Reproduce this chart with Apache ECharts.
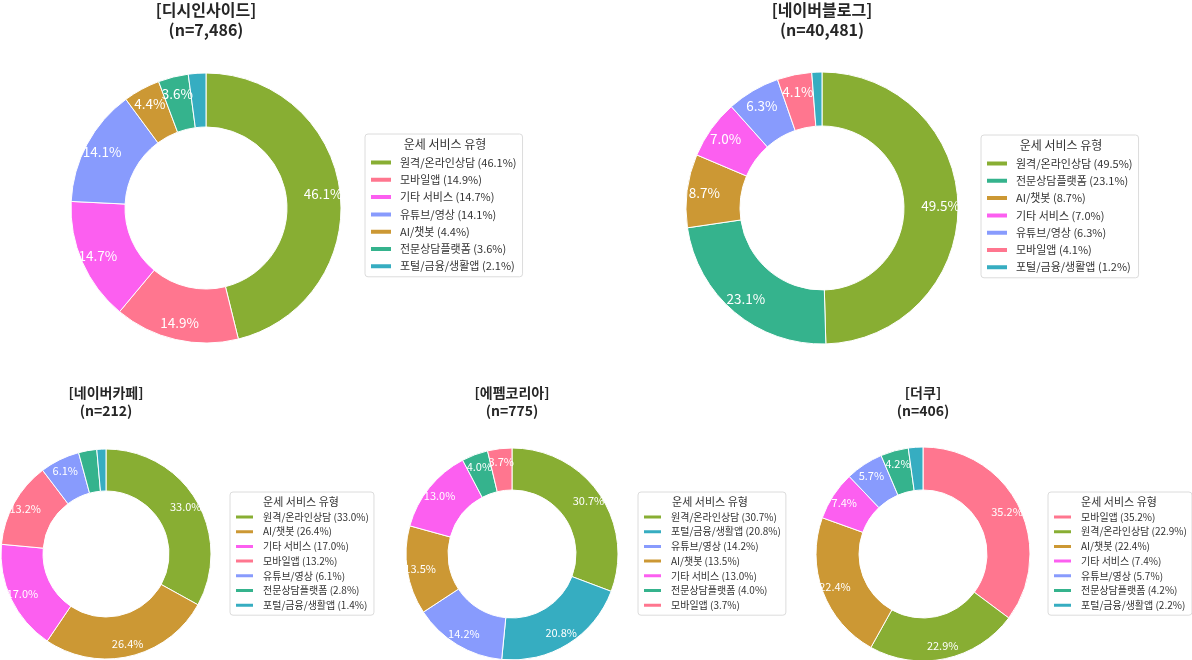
<!DOCTYPE html>
<html style="height:100%">
<meta charset="utf-8" />
<title>운세 서비스 유형 - 커뮤니티별</title>
<script src="https://cdn.jsdelivr.net/npm/echarts@6/dist/echarts.min.js"></script>
<body style="height:100%;width:100%;margin:0;background:#fff">
<div id="chartmain" style="width:1192px;height:660px;"></div>
<script type="text/javascript">

    // 카테고리 색상 (모든 차트 공통)
    var typeNames = ['원격/온라인상담', '모바일앱', '기타 서비스', '유튜브/영상', 'AI/챗봇', '전문상담플랫폼', '포털/금융/생활앱'];
    var typeColors = ['#88ae33', '#ff768f', '#fc5ff0', '#889bfd', '#cc9834', '#35b38d', '#36adc1'];

    // 디시인사이드
    var dcTitle = '[디시인사이드]\n(n=7,486)';
    var dcNames = ['원격/온라인상담', '모바일앱', '기타 서비스', '유튜브/영상', 'AI/챗봇', '전문상담플랫폼', '포털/금융/생활앱'];
    var dcValues = [46.1, 14.9, 14.7, 14.1, 4.4, 3.6, 2.1];

    // 네이버블로그
    var blogTitle = '[네이버블로그]\n(n=40,481)';
    var blogNames = ['원격/온라인상담', '전문상담플랫폼', 'AI/챗봇', '기타 서비스', '유튜브/영상', '모바일앱', '포털/금융/생활앱'];
    var blogValues = [49.5, 23.1, 8.7, 7.0, 6.3, 4.1, 1.2];

    // 네이버카페
    var cafeTitle = '[네이버카페]\n(n=212)';
    var cafeNames = ['원격/온라인상담', 'AI/챗봇', '기타 서비스', '모바일앱', '유튜브/영상', '전문상담플랫폼', '포털/금융/생활앱'];
    var cafeValues = [33.0, 26.4, 17.0, 13.2, 6.1, 2.8, 1.4];

    // 에펨코리아
    var fmTitle = '[에펨코리아]\n(n=775)';
    var fmNames = ['원격/온라인상담', '포털/금융/생활앱', '유튜브/영상', 'AI/챗봇', '기타 서비스', '전문상담플랫폼', '모바일앱'];
    var fmValues = [30.7, 20.8, 14.2, 13.5, 13.0, 4.0, 3.7];

    // 더쿠
    var tqTitle = '[더쿠]\n(n=406)';
    var tqNames = ['모바일앱', '원격/온라인상담', 'AI/챗봇', '기타 서비스', '유튜브/영상', '전문상담플랫폼', '포털/금융/생활앱'];
    var tqValues = [35.2, 22.9, 22.4, 7.4, 5.7, 4.2, 2.2];

    var legendHead = '운세 서비스 유형';
    var FONT = '"Noto Sans CJK KR", "Noto Sans", sans-serif';

    // 배치 (위 2개 크게, 아래 3개 작게)
    var panels = [
        {title: dcTitle, names: dcNames, values: dcValues, cx: 206, cy: 208, r: 135, big: true, lx: 365, ly: 134, lc: 445},
        {title: blogTitle, names: blogNames, values: blogValues, cx: 822, cy: 208, r: 136, big: true, lx: 981, ly: 135, lc: 1061},
        {title: cafeTitle, names: cafeNames, values: cafeValues, cx: 106, cy: 554, r: 105, big: false, lx: 230, ly: 492, lc: 301},
        {title: fmTitle, names: fmNames, values: fmValues, cx: 512, cy: 554, r: 106, big: false, lx: 638, ly: 492, lc: 710},
        {title: tqTitle, names: tqNames, values: tqValues, cx: 923, cy: 554, r: 107, big: false, lx: 1048, ly: 492, lc: 1119}
    ];

    function colorOf(name) {
        return typeColors[typeNames.indexOf(name)];
    }

    function init() {
        var myChart = echarts.init(document.getElementById('chartmain'));
        var titles = [], legends = [], series = [], labelSeries = [];

        panels.forEach(function (p, i) {
            var data = p.names.map(function (n, k) {
                return {name: n, value: p.values[k], itemStyle: {color: colorOf(n)}};
            });
            var pct = {};
            p.names.forEach(function (n, k) { pct[n] = p.values[k]; });

            // 차트 제목
            titles.push({
                text: p.title,
                left: p.cx,
                top: p.big ? 0 : 384,
                textAlign: 'center',
                padding: 0,
                textStyle: {
                    fontFamily: FONT,
                    fontSize: p.big ? 16 : 14,
                    fontWeight: 'bold',
                    color: '#262626',
                    lineHeight: p.big ? 20 : 18
                }
            });
            // 범례 제목
            titles.push({
                text: legendHead,
                left: p.lc,
                top: p.ly + 2,
                textAlign: 'center',
                padding: 0,
                z: 10,
                textStyle: {
                    fontFamily: FONT,
                    fontSize: p.big ? 12 : 11,
                    fontWeight: 'normal',
                    color: '#333',
                    lineHeight: p.big ? 16 : 15
                }
            });

            legends.push({
                orient: 'vertical',
                left: p.lx,
                top: p.ly,
                data: p.names,
                icon: 'rect',
                itemWidth: p.big ? 22 : 19,
                itemHeight: p.big ? 6 : 5,
                itemGap: p.big ? 4.3 : 2.7,
                padding: p.big ? [22, 6, 4, 4] : [19, 5, 4, 4],
                backgroundColor: '#fff',
                borderColor: '#dcdcdc',
                borderWidth: 1,
                borderRadius: 3,
                selectedMode: false,
                formatter: function (name) {
                    return name + ' (' + pct[name].toFixed(1) + '%)';
                },
                textStyle: {
                    fontFamily: FONT,
                    fontSize: p.big ? 11 : 10,
                    color: '#333',
                    lineHeight: p.big ? 13 : 12,
                    padding: [0, 0, 0, p.big ? 3 : 4]
                }
            });

            series.push({
                type: 'pie',
                name: p.title,
                center: [p.cx, p.cy],
                radius: [Math.round(p.r * 0.6), p.r],
                startAngle: 90,
                clockwise: true,
                data: data,
                label: {show: false},
                labelLine: {show: false},
                itemStyle: {borderColor: '#fff', borderWidth: 1},
                emphasis: {disabled: true}
            });

            // 퍼센트 라벨 (반지름 0.85 위치)
            labelSeries.push({
                type: 'pie',
                center: [p.cx, p.cy],
                radius: [Math.round(p.r * 0.7), p.r],
                startAngle: 90,
                clockwise: true,
                silent: true,
                z: 5,
                avoidLabelOverlap: false,
                labelLayout: {hideOverlap: false},
                data: p.names.map(function (n, k) {
                    return {name: n, value: p.values[k]};
                }),
                itemStyle: {color: 'rgba(0,0,0,0)', borderWidth: 0},
                labelLine: {show: false},
                emphasis: {disabled: true},
                label: {
                    show: true,
                    position: 'inside',
                    fontFamily: FONT,
                    fontSize: p.big ? 13.5 : 11,
                    color: '#fff',
                    formatter: function (prm) {
                        return prm.value >= 3 ? prm.value.toFixed(1) + '%' : '';
                    }
                }
            });
        });

        var option = {
            backgroundColor: '#fff',
            animation: false,
            title: titles,
            legend: legends,
            tooltip: {show: false},
            series: series.concat(labelSeries)
        };
        myChart.setOption(option);
    }

    init();
</script>
</body>
</html>
